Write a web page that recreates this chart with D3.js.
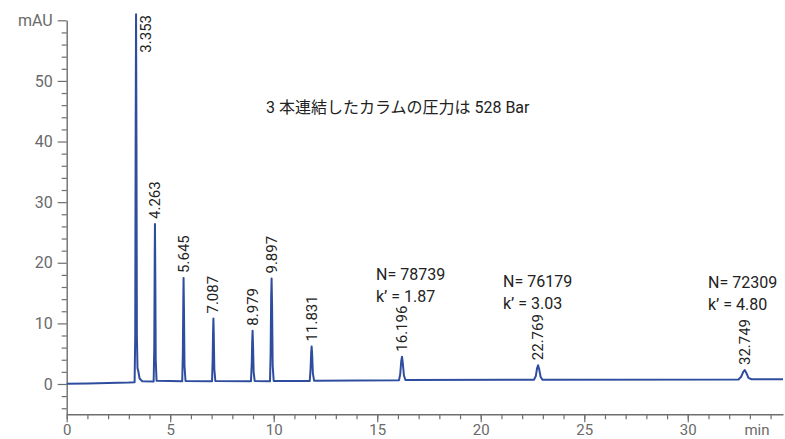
<!DOCTYPE html>
<html>
<head>
<meta charset="utf-8">
<script src="https://cdn.jsdelivr.net/npm/d3@7"></script>
<style>
  html, body { margin: 0; padding: 0; background: #fff; }
  svg { display: block; }
  text { font-family: Roboto, "Noto Sans CJK JP", sans-serif; }
</style>
</head>
<body>
<svg id="chart" width="785" height="439"></svg>
<script>
// ---- data ----
// chromatogram trace: [time (min), absorbance (mAU)]
const trace = [
  [0.0, 0.02], [1.0, 0.08], [2.0, 0.18], [3.0, 0.25], [3.28, 0.3],
  [3.31, 8], [3.33, 40], [3.35, 61], [3.37, 40], [3.39, 8], [3.42, 2.6], [3.46, 2.1], [3.52, 0.9], [3.65, 0.45],
  [4.20, 0.4], [4.23, 6], [4.25, 20], [4.263, 26.4], [4.28, 18], [4.30, 4], [4.34, 0.55],
  [5.58, 0.45], [5.61, 5], [5.63, 13], [5.645, 17.5], [5.665, 12], [5.69, 3], [5.74, 0.5],
  [7.02, 0.45], [7.05, 4], [7.07, 8.5], [7.087, 10.8], [7.105, 8], [7.13, 2.5], [7.18, 0.5],
  [8.90, 0.45], [8.94, 3.5], [8.96, 7], [8.979, 8.8], [9.00, 6.5], [9.03, 2], [9.08, 0.5],
  [9.82, 0.45], [9.85, 5], [9.875, 14], [9.897, 17.4], [9.92, 13], [9.95, 3], [10.0, 0.5],
  [11.74, 0.5], [11.78, 2.5], [11.81, 5.2], [11.831, 6.2], [11.855, 5], [11.89, 1.8], [11.95, 0.55],
  [16.05, 0.6], [16.11, 1.6], [16.16, 3.8], [16.196, 4.5], [16.23, 3.6], [16.29, 1.4], [16.36, 0.65],
  [22.57, 0.7], [22.66, 1.3], [22.72, 2.6], [22.769, 3.1], [22.82, 2.5], [22.89, 1.2], [22.98, 0.7],
  [32.45, 0.75], [32.58, 1.2], [32.68, 2.0], [32.749, 2.3], [32.82, 1.9], [32.93, 1.0], [33.08, 0.78],
  [34.6, 0.8]
];

// labelled peaks: retention time and apex height
const peakTimes   = [3.353, 4.263, 5.645, 7.087, 8.979, 9.897, 11.831, 16.196, 22.769, 32.749];
const peakHeights = [61, 26.4, 17.5, 10.8, 8.8, 17.4, 6.2, 4.5, 3.1, 2.3];
const peakLabels  = ["3.353", "4.263", "5.645", "7.087", "8.979", "9.897", "11.831", "16.196", "22.769", "32.749"];

// plate number / retention factor annotations
const plateN   = ["N= 78739", "N= 76179", "N= 72309"];
const kPrime   = ["k’ = 1.87", "k’ = 3.03", "k’ = 4.80"];

// axis ticks
const xMajorTicks = [0, 5, 10, 15, 20, 25, 30];
const xMinorTicks = d3.range(0, 35, 1);
const yMajorTicks = [0, 10, 20, 30, 40, 50, 60];
const yTickLabels = ["0", "10", "20", "30", "40", "50", "mAU"];
const yMinorTicks = [-4, -2, 2, 4, 6, 8, 12, 14, 16, 18, 22, 24, 26, 28, 32, 34, 36, 38, 42, 44, 46, 48, 52, 54, 56, 58];

const xUnit = "min";
const note = "3 本連結したカラムの圧力は 528 Bar";

// ---- drawing ----
const svg = d3.select("#chart");
const axisColor = "#6e6e6e";
const labelColor = "#6a6a6a";
const lineColor = "#2f4d9e";

const x = d3.scaleLinear().domain([0, 34.6]).range([66.7, 783]);
const y = d3.scaleLinear().domain([-5, 60]).range([414.3, 20.3]);

// X axis
const gx = svg.append("g").attr("transform", `translate(0,${y(-5)})`);
gx.call(d3.axisBottom(x).tickValues(xMinorTicks).tickSize(5).tickFormat(""))
  .call(g => g.select(".domain").remove());
gx.append("g").call(d3.axisBottom(x).tickValues(xMajorTicks).tickSize(8).tickSizeOuter(0).tickFormat(d3.format("d")));
gx.selectAll("line").attr("stroke", axisColor).attr("stroke-width", 1.2);
gx.selectAll(".domain").attr("stroke", axisColor).attr("stroke-width", 1.4);
gx.selectAll("text").attr("fill", labelColor).style("font-size", "15px")
  .attr("y", 20.5).attr("dy", null);
gx.append("text").attr("x", 757).attr("y", 20.5).attr("fill", labelColor)
  .style("font-size", "15px").text(xUnit);

// Y axis
const gy = svg.append("g").attr("transform", `translate(${x(0)},0)`);
gy.call(d3.axisLeft(y).tickValues(yMinorTicks).tickSize(5).tickFormat(""))
  .call(g => g.select(".domain").remove());
gy.append("g").call(d3.axisLeft(y).tickValues(yMajorTicks).tickSize(9).tickSizeOuter(0).tickPadding(5)
  .tickFormat((d, i) => yTickLabels[i]));
gy.selectAll("line").attr("stroke", axisColor).attr("stroke-width", 1.2);
gy.selectAll(".domain").attr("stroke", axisColor).attr("stroke-width", 1.4);
gy.selectAll("text").attr("fill", labelColor).style("font-size", "16px");

// trace
const line = d3.line().x(d => x(d[0])).y(d => y(d[1]));
svg.append("path").datum(trace)
  .attr("d", line)
  .attr("fill", "none")
  .attr("stroke", lineColor)
  .attr("stroke-width", 2)
  .attr("stroke-linejoin", "round");

// peak labels (rotated)
svg.append("g").selectAll("text").data(peakTimes).join("text")
  .attr("transform", (d, i) => {
    if (i === 0) return `translate(${x(d) + 10},15) rotate(-90)`;
    return `translate(${x(d)},${y(peakHeights[i]) - 5}) rotate(-90)`;
  })
  .attr("text-anchor", (d, i) => i === 0 ? "end" : "start")
  .attr("dominant-baseline", "central")
  .attr("fill", "#222")
  .style("font-size", "15px")
  .text((d, i) => peakLabels[i]);

// N / k' annotations
const annPos = [[376, 280], [503, 287], [708, 288]];
const ann = svg.append("g").style("font-size", "16px").attr("fill", "#222");
plateN.forEach((t, i) => {
  ann.append("text").attr("x", annPos[i][0]).attr("y", annPos[i][1]).text(t);
  ann.append("text").attr("x", annPos[i][0]).attr("y", annPos[i][1] + 21.5).text(kPrime[i]);
});

// note
svg.append("text").attr("x", 266).attr("y", 113)
  .attr("fill", "#222").style("font-size", "16px").text(note);
</script>
</body>
</html>
